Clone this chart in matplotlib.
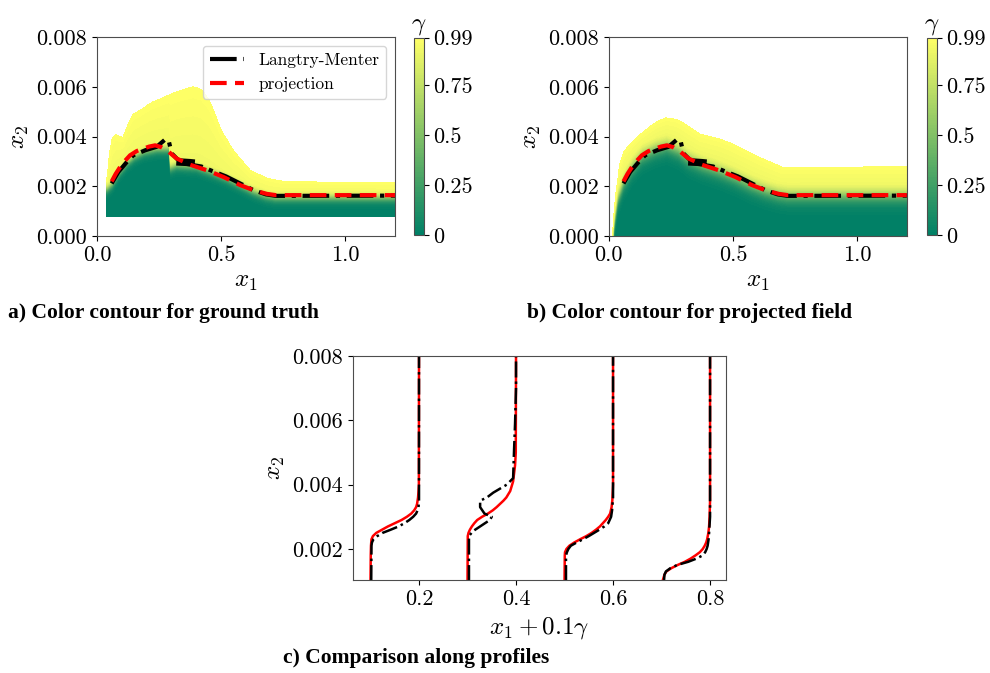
import numpy as np
import matplotlib
matplotlib.use("Agg")
import matplotlib.pyplot as plt
from matplotlib.ticker import FormatStrFormatter

plt.rcParams['font.family'] = 'serif'
plt.rcParams['font.serif'] = ['cmr10', 'DejaVu Serif']
plt.rcParams['mathtext.fontset'] = 'cm'
plt.rcParams['axes.formatter.use_mathtext'] = True
plt.rcParams['axes.unicode_minus'] = False

# ---- edge lines (panels a, b) ----
proj_x = [0.059, 0.075, 0.093, 0.11, 0.133, 0.16, 0.187, 0.21, 0.234, 0.258, 0.281,
          0.321, 0.375, 0.442, 0.509, 0.577, 0.63, 0.684, 0.72, 1.2]
proj_y = [2.2e-3, 2.5e-3, 2.78e-3, 3.0e-3, 3.25e-3, 3.42e-3, 3.52e-3, 3.6e-3, 3.65e-3,
          3.58e-3, 3.45e-3, 3.12e-3, 2.87e-3, 2.65e-3, 2.38e-3, 2.05e-3, 1.85e-3,
          1.7e-3, 1.65e-3, 1.65e-3]

lm_x = [0.059, 0.086, 0.12, 0.146, 0.194, 0.24, 0.274, 0.288, 0.301, 0.328, 0.375, 0.415,
        np.nan,
        0.319, 0.36, 0.42, 0.469, 0.52, 0.58, 0.63, 0.68, 0.72, 1.2]
lm_y = [2.12e-3, 2.58e-3, 2.98e-3, 3.25e-3, 3.45e-3, 3.59e-3, 3.88e-3, 3.86e-3, 3.32e-3,
        3.05e-3, 3.02e-3, 2.98e-3,
        np.nan,
        2.92e-3, 2.9e-3, 2.8e-3, 2.6e-3, 2.4e-3, 2.1e-3, 1.85e-3, 1.68e-3, 1.62e-3, 1.63e-3]

# ---- ground truth field (a): gamma=0.5 edge and gamma=0.99 top ----
a_edge_x = [0.039, 0.06, 0.09, 0.12, 0.15, 0.19, 0.24, 0.29, 0.296, 0.32, 0.4, 0.47,
            0.52, 0.58, 0.63, 0.68, 0.72, 1.2]
a_edge_y = [1.9e-3, 2.1e-3, 2.6e-3, 2.95e-3, 3.2e-3, 3.4e-3, 3.5e-3, 3.5e-3, 2.75e-3,
            2.85e-3, 2.8e-3, 2.55e-3, 2.35e-3, 2.05e-3, 1.8e-3, 1.62e-3, 1.55e-3, 1.55e-3]
a_top_x = [0.039, 0.05, 0.06, 0.075, 0.09, 0.105, 0.125, 0.145, 0.18, 0.214, 0.25, 0.306,
           0.35, 0.387, 0.42, 0.45, 0.469, 0.5, 0.549, 0.617, 0.685, 0.75, 1.2]
a_top_y = [2.2e-3, 3.3e-3, 3.9e-3, 4.1e-3, 4.0e-3, 3.98e-3, 4.5e-3, 4.9e-3, 5.1e-3,
           5.34e-3, 5.5e-3, 5.74e-3, 5.9e-3, 6.0e-3, 5.9e-3, 5.5e-3, 5.06e-3, 4.26e-3,
           3.45e-3, 2.65e-3, 2.33e-3, 2.2e-3, 2.15e-3]

# ---- projected field (b) ----
b_edge_x = [0.016, 0.025, 0.035, 0.059, 0.093, 0.133, 0.187, 0.234, 0.281, 0.321, 0.375,
            0.442, 0.509, 0.577, 0.63, 0.684, 0.72, 1.2]
b_edge_y = [0.0, 0.8e-3, 1.5e-3, 2.2e-3, 2.78e-3, 3.25e-3, 3.52e-3, 3.65e-3, 3.45e-3,
            3.12e-3, 2.87e-3, 2.65e-3, 2.38e-3, 2.05e-3, 1.85e-3, 1.7e-3, 1.65e-3, 1.65e-3]
b_top_x = [0.016, 0.02, 0.03, 0.044, 0.06, 0.085, 0.138, 0.192, 0.23, 0.27, 0.3, 0.367,
           0.45, 0.5, 0.6, 0.7, 1.2]
b_top_y = [0.0, 0.8e-3, 1.8e-3, 2.9e-3, 3.4e-3, 3.7e-3, 4.2e-3, 4.6e-3, 4.75e-3, 4.7e-3,
           4.55e-3, 4.1e-3, 3.9e-3, 3.7e-3, 3.2e-3, 2.77e-3, 2.8e-3]

# ---- profiles (c) ----
stations = [0.1, 0.3, 0.5, 0.7]
ref_y = [
    [1.0e-3, 2.1e-3, 2.2e-3, 2.3e-3, 2.4e-3, 2.5e-3, 2.6e-3, 2.7e-3, 2.8e-3, 2.9e-3,
     3.0e-3, 3.1e-3, 3.2e-3, 3.3e-3, 3.5e-3, 8.0e-3],
    [1.0e-3, 2.4e-3, 2.55e-3, 2.9e-3, 3.0e-3, 3.1e-3, 3.3e-3, 3.5e-3, 3.6e-3, 3.75e-3,
     4.0e-3, 4.2e-3, 5.1e-3, 5.9e-3, 7.0e-3, 8.0e-3],
    [1.0e-3, 1.8e-3, 1.9e-3, 2.0e-3, 2.1e-3, 2.2e-3, 2.3e-3, 2.4e-3, 2.5e-3, 2.6e-3,
     2.7e-3, 2.8e-3, 3.0e-3, 3.2e-3, 3.6e-3, 8.0e-3],
    [1.0e-3, 1.2e-3, 1.3e-3, 1.4e-3, 1.5e-3, 1.6e-3, 1.7e-3, 1.8e-3, 1.9e-3, 2.0e-3,
     2.1e-3, 2.3e-3, 2.5e-3, 3.0e-3, 8.0e-3],
]
ref_g = [
    [0.015, 0.02, 0.03, 0.06, 0.14, 0.25, 0.42, 0.58, 0.7, 0.8, 0.88, 0.94, 0.97, 0.99,
     1.0, 1.0],
    [0.03, 0.03, 0.11, 0.46, 0.5, 0.35, 0.26, 0.26, 0.4, 0.53, 0.81, 0.94, 0.96, 0.98,
     1.0, 1.0],
    [0.03, 0.03, 0.05, 0.08, 0.13, 0.25, 0.38, 0.5, 0.61, 0.72, 0.82, 0.9, 0.96, 0.98,
     1.0, 1.0],
    [0.05, 0.06, 0.09, 0.18, 0.32, 0.55, 0.72, 0.85, 0.9, 0.93, 0.95, 0.97, 0.98, 1.0, 1.0],
]
prj_y = [
    [1.0e-3, 1.8e-3, 2.1e-3, 2.3e-3, 2.4e-3, 2.5e-3, 2.6e-3, 2.7e-3, 2.8e-3, 2.9e-3,
     3.0e-3, 3.1e-3, 3.2e-3, 3.3e-3, 3.4e-3, 3.6e-3, 3.8e-3, 4.0e-3, 8.0e-3],
    [1.0e-3, 2.4e-3, 2.5e-3, 2.6e-3, 2.7e-3, 2.8e-3, 2.9e-3, 3.0e-3, 3.1e-3, 3.2e-3,
     3.3e-3, 3.4e-3, 3.5e-3, 3.6e-3, 3.8e-3, 4.1e-3, 4.6e-3, 5.0e-3, 8.0e-3],
    [1.0e-3, 1.8e-3, 1.9e-3, 2.0e-3, 2.1e-3, 2.2e-3, 2.3e-3, 2.4e-3, 2.5e-3, 2.6e-3,
     2.7e-3, 2.8e-3, 2.9e-3, 3.0e-3, 3.1e-3, 3.3e-3, 3.5e-3, 4.0e-3, 8.0e-3],
    [1.0e-3, 1.1e-3, 1.2e-3, 1.3e-3, 1.4e-3, 1.5e-3, 1.6e-3, 1.7e-3, 1.8e-3, 1.9e-3,
     2.0e-3, 2.1e-3, 2.2e-3, 2.3e-3, 2.5e-3, 2.7e-3, 3.0e-3, 3.5e-3, 8.0e-3],
]
prj_g = [
    [0.0, 0.005, 0.01, 0.02, 0.05, 0.12, 0.24, 0.36, 0.5, 0.64, 0.75, 0.84, 0.9, 0.94,
     0.96, 0.98, 0.99, 0.997, 1.0],
    [0.0, 0.005, 0.02, 0.05, 0.09, 0.14, 0.2, 0.3, 0.42, 0.52, 0.6, 0.67, 0.74, 0.8,
     0.88, 0.94, 0.98, 0.995, 1.0],
    [0.0, 0.005, 0.01, 0.04, 0.1, 0.2, 0.32, 0.45, 0.56, 0.65, 0.73, 0.79, 0.85, 0.9,
     0.94, 0.97, 0.985, 1.0, 1.0],
    [0.02, 0.04, 0.06, 0.1, 0.2, 0.33, 0.48, 0.6, 0.7, 0.79, 0.85, 0.89, 0.92, 0.94,
     0.965, 0.98, 0.99, 1.0, 1.0],
]

cb_ticks = [0, 0.25, 0.5, 0.75, 0.99]
cb_labels = ['0', '0.25', '0.5', '0.75', '0.99']


def build_field(x0, y0, ex, ey, tx, ty, width, cap):
    # gamma rises across the edge line and passes 0.99 above the top line
    x = np.linspace(x0, 1.2, 700)
    y = np.linspace(y0, 0.008, 500)
    X, Y = np.meshgrid(x, y)
    e = np.interp(X, ex, ey)
    t = np.interp(X, tx, ty)
    g = 0.5 * (1 + np.tanh((Y - e) / width))
    frac = np.clip((Y - e) / np.maximum(t - e, 1e-6), 0, 1)
    g = np.minimum(g, cap + (0.985 - cap) * frac)
    g[Y > t] = 1.0
    return X, Y, g


def contour_panel(fig, rect, crect, X, Y, G, show_legend):
    ax = fig.add_axes(rect)
    cs = ax.contourf(X, Y, G, levels=np.linspace(0, 0.99, 80), cmap='summer')
    ax.plot(lm_x, lm_y, color='k', ls='-.', lw=3, label='Langtry-Menter')
    ax.plot(proj_x, proj_y, color='red', ls='--', lw=3, dashes=(4, 2),
            label='projection')
    ax.set_xlim(0, 1.2)
    ax.set_ylim(0, 0.008)
    ax.set_xticks([0.0, 0.5, 1.0])
    ax.set_yticks([0, 0.002, 0.004, 0.006, 0.008])
    ax.xaxis.set_major_formatter(FormatStrFormatter('%.1f'))
    ax.yaxis.set_major_formatter(FormatStrFormatter('%.3f'))
    ax.set_xlabel('$x_1$', fontsize=18)
    ax.set_ylabel('$x_2$', fontsize=18)
    if show_legend:
        ax.legend(loc='upper right', fontsize=12.5, handlelength=2.0)
    cax = fig.add_axes(crect)
    cb = fig.colorbar(cs, cax=cax, ticks=cb_ticks)
    cb.ax.set_yticklabels(cb_labels)
    cb.ax.set_title(r'$\gamma$', fontsize=18, pad=6)
    cb.outline.set_linewidth(0.8)
    return ax


def draw():
    fig = plt.figure(figsize=(9.9, 6.73), dpi=100)
    plt.rcParams['xtick.labelsize'] = 16
    plt.rcParams['ytick.labelsize'] = 16

    Xa, Ya, Ga = build_field(0.039, 0.0008, a_edge_x, a_edge_y, a_top_x, a_top_y,
                             0.0002, 0.93)
    contour_panel(fig, [0.098, 0.649, 0.301, 0.296], [0.418, 0.651, 0.0101, 0.293],
                  Xa, Ya, Ga, True)

    Xb, Yb, Gb = build_field(0.016, 0.0, b_edge_x, b_edge_y, b_top_x, b_top_y,
                             0.00035, 0.9)
    contour_panel(fig, [0.615, 0.649, 0.301, 0.296], [0.936, 0.651, 0.0101, 0.293],
                  Xb, Yb, Gb, False)

    # profile comparison
    axc = fig.add_axes([0.3566, 0.138, 0.3768, 0.333])
    for i, x1 in enumerate(stations):
        axc.plot(x1 + 0.1 * np.array(prj_g[i]), prj_y[i], color='red', lw=1.8)
        axc.plot(x1 + 0.1 * np.array(ref_g[i]), ref_y[i], color='k', ls='-.', lw=1.8)
    axc.set_xlim(0.064, 0.833)
    axc.set_ylim(0.00103, 0.008)
    axc.set_xticks([0.2, 0.4, 0.6, 0.8])
    axc.set_yticks([0.002, 0.004, 0.006, 0.008])
    axc.xaxis.set_major_formatter(FormatStrFormatter('%.1f'))
    axc.yaxis.set_major_formatter(FormatStrFormatter('%.3f'))
    axc.set_xlabel(r'$x_1 + 0.1\gamma$', fontsize=18)
    axc.set_ylabel('$x_2$', fontsize=18)

    cap = dict(family='Liberation Serif', weight='bold', fontsize=15.5, va='baseline')
    fig.text(8 / 990, 1 - 318 / 673, 'a) Color contour for ground truth', **cap)
    fig.text(527 / 990, 1 - 318 / 673, 'b) Color contour for projected field', **cap)
    fig.text(283 / 990, 1 - 663 / 673, 'c) Comparison along profiles', **cap)

    for ax in fig.axes:
        for s in ax.spines.values():
            s.set_edgecolor('0.3')

    fig.savefig('out.png', dpi=100)


if __name__ == "__main__":
    draw()
